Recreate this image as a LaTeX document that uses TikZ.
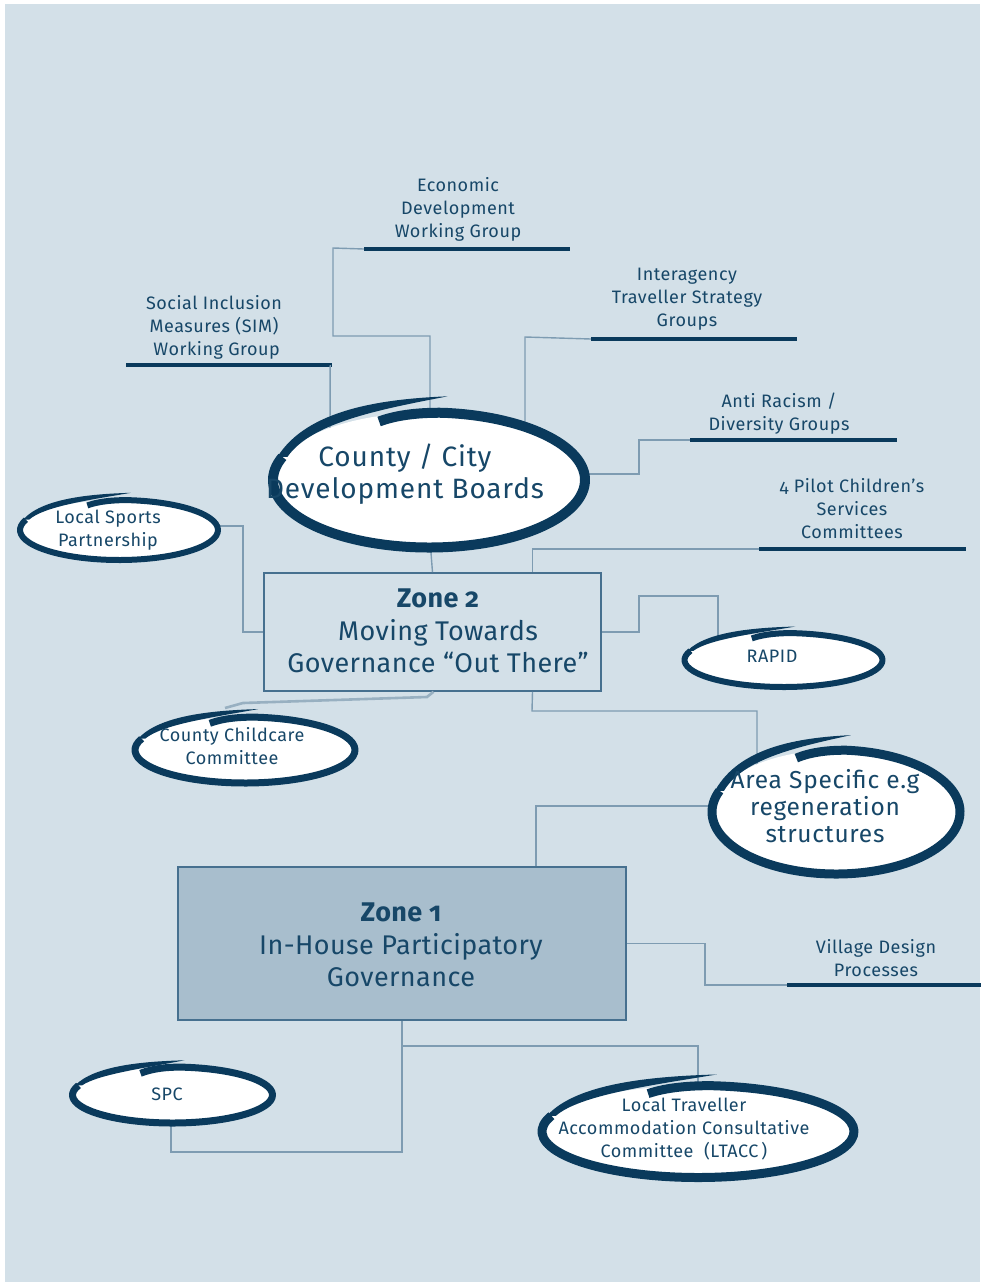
\documentclass[tikz,border=0pt]{standalone}
\usepackage{fontspec}
\setmainfont{Fira Sans}[Numbers=OldStyle]
\newfontfamily\widefont{Fira Sans}[Numbers=OldStyle, LetterSpace=3]
\newfontfamily\zonefont{Fira Sans}[Numbers=OldStyle, LetterSpace=1.5]
\usetikzlibrary{shapes.geometric,calc}
\definecolor{bg}{HTML}{D3E0E8}
\definecolor{navy}{HTML}{0A3A5C}
\definecolor{ink}{HTML}{174768}
\definecolor{wire}{HTML}{7E9CB2}
\definecolor{zfill}{HTML}{A8BECD}
\definecolor{zline}{HTML}{46708F}
\tikzset{
  conn/.style={draw=wire, line width=1.4pt},
  softconn/.style={draw=wire!80!white, line width=2.6pt},
  bar/.style={fill=navy, inner sep=0pt, minimum height=4.5pt},
  lbl/.style={text=ink, align=center, inner sep=0pt, font=\widefont\fontsize{18}{23}\selectfont},
  biglbl/.style={text=ink, align=center, inner sep=0pt, font=\widefont\fontsize{28}{32.5}\selectfont},
  zonelbl/.style={text=ink, align=center, inner sep=0pt, font=\zonefont\fontsize{27}{32.5}\selectfont},
  midlbl/.style={text=ink, align=center, inner sep=0pt, font=\widefont\fontsize{24.5}{27}\selectfont},
  zonebox/.style={draw=zline, line width=1.6pt, inner sep=0pt},
  ellnode/.style={ellipse, inner sep=0pt},
}
% #1 name, #2 cx, #3 cy, #4 a, #5 b, #6 stroke width
\newcommand\brushel[6]{%
  \node[ellnode, minimum width=2*#4, minimum height=2*#5] (#1) at (#2,#3) {};
  \fill[white] (#2,#3) ellipse[x radius=#4, y radius=#5];
  \draw[navy, line width=#6, line cap=butt, line join=round]
    ($(#2,#3)+(-0.32*#4,-1.0*#5+0.9*#6)$)
      .. controls ($(#2,#3)+(-0.2*#4,-1.0*#5+0.2*#6)$) and ($(#2,#3)+(-0.05*#4,-1.0*#5)$) ..
    ($(#2,#3)+(-85:#4 and #5)$) arc[start angle=-85, end angle=200, x radius=#4, y radius=#5];
  \fill[navy]
    ($(#2,#3)+(200:#4 and #5)+(-0.5*#6,0)$)
      .. controls ($(#2,#3)+(-0.78*#4,-1.05*#5)$) and ($(#2,#3)+(-0.3*#4,-1.2*#5)$)
      .. ($(#2,#3)+(0.12*#4,-1.24*#5)$)
      .. controls ($(#2,#3)+(-0.3*#4,-1.2*#5)+(0,1.0*#6)$) and ($(#2,#3)+(-0.78*#4,-1.05*#5)+(0.4*#6,1.3*#6)$)
      .. ($(#2,#3)+(200:#4 and #5)+(0.5*#6,0)$) -- cycle;
}
\begin{document}
\begin{tikzpicture}[x=1pt,y=-1pt]
\useasboundingbox (0,0) rectangle (980,1282);
\fill[bg] (5,4) rectangle (980,1282);

% ---- bars and labels ----
\node[bar, minimum width=206pt] (econbar) at (467,249) {};
\node[lbl] (econ) at (458,209) {Economic\\Development\\Working Group};
\node[bar, minimum width=206pt] (simbar) at (229,365) {};
\node[lbl] (sim) at (214,327) {Social Inclusion\\Measures (SIM)\\\ Working Group};
\node[bar, minimum width=206pt] (trabar) at (694,339) {};
\node[lbl] (tra) at (687,299) {Interagency\\Traveller Strategy\\Groups};
\node[bar, minimum width=207pt] (antibar) at (793.5,440) {};
\node[lbl] (anti) at (779,413.5) {Anti Racism /\\Diversity Groups};
\node[bar, minimum width=207pt] (pilotbar) at (862.5,549) {};
\node[lbl] (pilot) at (852,509) {4 Pilot Children’s\\Services\\Committees};
\node[bar, minimum width=198pt] (villagebar) at (886,985) {};
\node[lbl] (village) at (876,958.5) {Village Design\\Processes};

% ---- zone boxes ----
\node[zonebox, minimum width=337pt, minimum height=118pt] (zone2) at (432.5,632) {};
\node[zonelbl] (zone2t) at (438,631) {\bfseries Zone 2\\Moving Towards\\Governance “Out There”};
\node[zonebox, fill=zfill, minimum width=448pt, minimum height=153pt] (zone1) at (402,943.5) {};

% ---- connectors (drawn under the ellipses) ----
\coordinate (ccdbtop) at (430,420);
\draw[conn] (econbar.west) -- (333,248) -- (333,336) -- (430,336) -- (ccdbtop);
\draw[conn] ([xshift=-2pt]simbar.east) -- (330,430);
\draw[conn] (trabar.west) -- (525,337) -- (525,440);
\draw[conn] (antibar.west) -- (639,440) -- (639,474) -- (575,474);
\draw[conn] (pilotbar.west) -| ([xshift=100pt]zone2.north);
\draw[conn] (430,540) -- (zone2.north);
\draw[conn] (200,526) -- (243,526) |- (zone2.west);
\draw[conn] (zone2.east) -- (639,632) -- (639,596) -- (718,596) -- (718,650);
\draw[conn] ([xshift=100pt]zone2.south) -- (532,711) -- (757,711) -- (757,770);
\draw[softconn] ([xshift=1pt]zone2.south) -- (427,697) -- (243,703) -- (225,708);
\draw[conn] (730,806) -- (536,806) -- ([xshift=134pt]zone1.north);
\draw[conn] (zone1.east) -| (705,985) -- (villagebar.west);
\draw[conn] (zone1.south) -- (402,1152) -- (171,1152) -- (171,1110);
\draw[conn] (402,1046) -- (698,1046) -- (698,1100);

% ---- brush ellipses ----
\brushel{ccdb}{429}{480}{156}{67.5}{10}
\brushel{sports}{119}{530}{99}{30}{6}
\brushel{rapid}{783.5}{660}{99}{27}{6}
\brushel{childcare}{245}{750}{110}{33}{7}
\brushel{area}{836}{812}{124}{62}{9}
\brushel{spc}{172.5}{1095}{100}{28}{7}
\brushel{ltacc}{698}{1131.5}{156}{46}{9}

% ---- ellipse texts ----
\node[biglbl] (ccdbt) at (405,474) {County / City\\Development Boards};
\node[lbl] (sportst) at (108,530) {Local Sports\\Partnership};
\node[lbl] (rapidt) at (772,656) {RAPID};
\node[lbl] (childcaret) at (232,746) {County Childcare\\Committee};
\node[midlbl] (areat) at (825,806) {Area Specific e.g\\regeneration\\structures};
\node[lbl] (spct) at (167,1094) {SPC};
\node[lbl] (ltacct) at (684,1129) {Local Traveller\\Accommodation Consultative\\Committee\ \ (LTACC\,)};

% ---- zone 1 text ----
\node[zonelbl] (zone1t) at (401,945) {\bfseries Zone 1\\In-House Participatory\\Governance};
\end{tikzpicture}
\end{document}
